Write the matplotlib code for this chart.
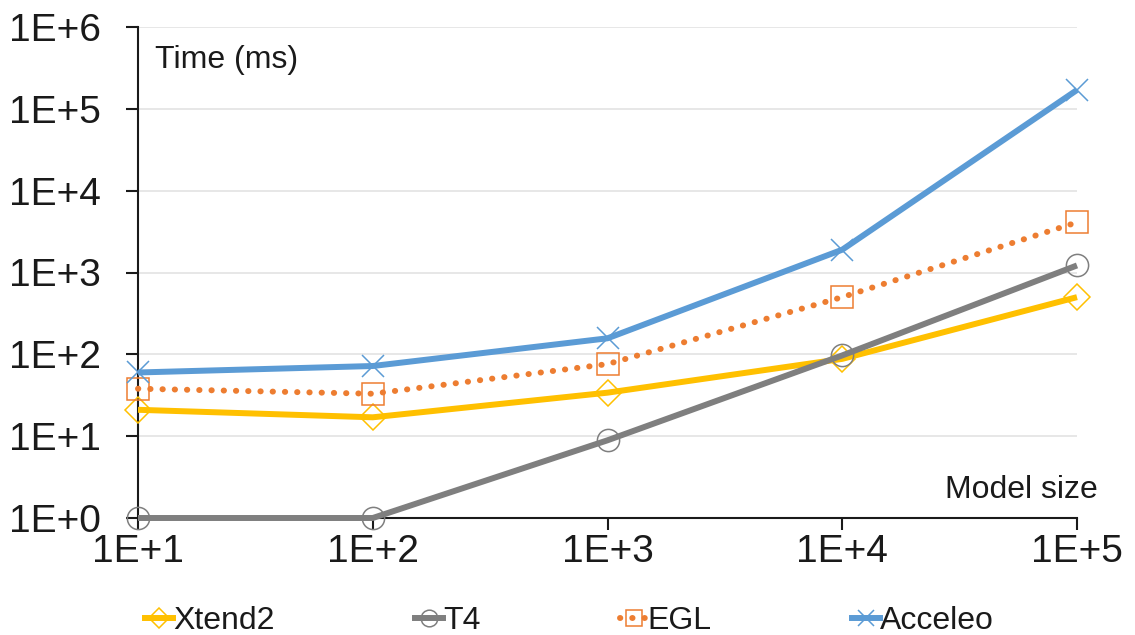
import numpy as np
import matplotlib.pyplot as plt
from matplotlib.lines import Line2D

plt.rcParams['font.family'] = ['Liberation Sans', 'DejaVu Sans']

# model sizes and times (ms)
model_size = [1e1, 1e2, 1e3, 1e4, 1e5]
xtend2 = [21, 17, 34, 88, 500]
t4 = [1, 1, 8.9, 97, 1220]
egl = [38, 33, 76, 500, 4100]
acceleo = [60, 72, 157, 1900, 170000]

x_ticks = [1e1, 1e2, 1e3, 1e4, 1e5]
x_labels = ['1E+1', '1E+2', '1E+3', '1E+4', '1E+5']
y_ticks = [1e0, 1e1, 1e2, 1e3, 1e4, 1e5, 1e6]
y_labels = ['1E+0', '1E+1', '1E+2', '1E+3', '1E+4', '1E+5', '1E+6']

series = [
    ('Xtend2', xtend2, '#FFC000', '-', 'D', 13),
    ('T4', t4, '#7F7F7F', '-', 'o', 16),
    ('EGL', egl, '#ED7D31', (0, (0.05, 2.0)), 's', 16),
    ('Acceleo', acceleo, '#5B9BD5', '-', 'x', 16),
]
txt = '#1A1A1A'

fig = plt.figure(figsize=(11.35, 6.35), dpi=100)
ax = fig.add_axes([138/1135, 1 - 518/635, (1077 - 138)/1135, (518 - 27)/635])

for name, vals, col, ls, mk, ms in series:
    ax.plot(model_size, vals, color=col, lw=4.3, linestyle=ls,
            dash_capstyle='round', solid_capstyle='butt',
            marker=mk, markersize=ms, markerfacecolor='none',
            markeredgecolor=col, markeredgewidth=1.1, clip_on=False, zorder=3)

ax.set_xscale('log')
ax.set_yscale('log')
ax.set_xlim(1e1, 1e5)
ax.set_ylim(1e0, 1e6)
ax.xaxis.set_major_locator(plt.FixedLocator(x_ticks))
ax.yaxis.set_major_locator(plt.FixedLocator(y_ticks))
ax.xaxis.set_minor_locator(plt.NullLocator())
ax.yaxis.set_minor_locator(plt.NullLocator())
ax.set_xticklabels(x_labels)
ax.set_yticklabels(y_labels)
ax.tick_params(axis='both', which='major', labelsize=28, colors=txt,
               length=8.5, width=1.5, direction='out')
ax.tick_params(axis='y', pad=18)
ax.tick_params(axis='x', pad=3)

ax.grid(True, axis='y', color='#E3E3E3', lw=1.2, zorder=0)
ax.set_axisbelow(True)
for s in ['top', 'right']:
    ax.spines[s].set_visible(False)
for s in ['left', 'bottom']:
    ax.spines[s].set_color(txt)
    ax.spines[s].set_linewidth(1.5)

fig.text(155/1135, 1 - 60/635, 'Time (ms)', fontsize=23, color=txt,
         ha='left', va='center')
fig.text(1098/1135, 1 - 490/635, 'Model size', fontsize=23, color=txt,
         ha='right', va='center')

# legend entries at fixed positions like the original
leg_x = [145, 415, 620, 852]
for (name, vals, col, ls, mk, ms), lx in zip(series, leg_x):
    h = Line2D([], [], color=col, lw=4.3, linestyle=ls, dash_capstyle='round',
               marker=mk, markersize=ms * 0.75, markerfacecolor='none',
               markeredgecolor=col, markeredgewidth=1.1)
    fig.legend([h], [name], loc='center left',
               bbox_to_anchor=(lx/1135, 1 - 621/635), frameon=False,
               fontsize=23, handlelength=0.87, handletextpad=0.0,
               borderpad=0, borderaxespad=0, labelcolor=txt)

fig.savefig('out.png', dpi=100)
